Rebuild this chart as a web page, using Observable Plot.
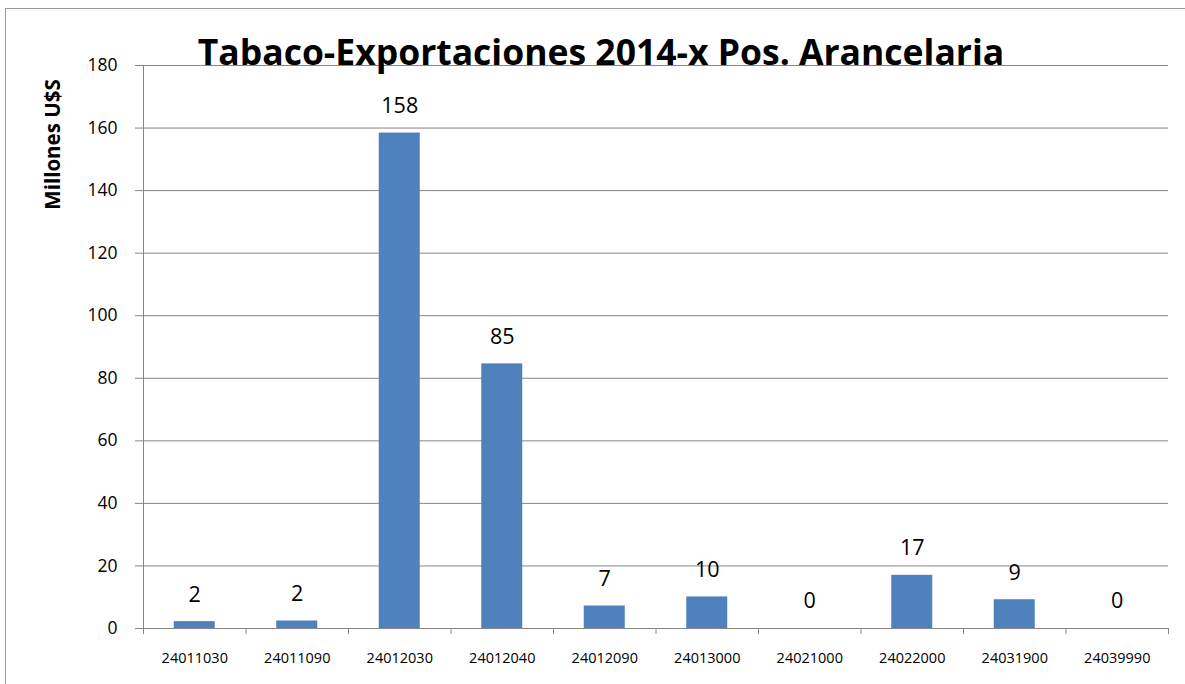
<!DOCTYPE html>
<html>
<head>
<meta charset="utf-8">
<script src="https://cdn.jsdelivr.net/npm/d3@7"></script>
<script src="https://cdn.jsdelivr.net/npm/@observablehq/plot@0.6"></script>
<style>
  html, body { margin: 0; padding: 0; background: #fff; overflow: hidden; }
  #wrap { position: relative; width: 1185px; height: 684px; }
  #border { position: absolute; left: 5px; top: 8px; width: 1300px; height: 800px; border: 1.5px solid #9a9a9a; box-sizing: border-box; }
  #chart { position: absolute; left: 0; top: 0; }
</style>
</head>
<body>
<div id="wrap"><div id="border"></div><div id="chart"></div></div>
<script>
const title = "Tabaco-Exportaciones 2014-x Pos. Arancelaria";
const yLabel = "Millones U$S";
const codes = ["24011030","24011090","24012030","24012040","24012090","24013000","24021000","24022000","24031900","24039990"];
const values = [2.2, 2.4, 158.4, 84.6, 7.2, 10.1, 0.0, 17.0, 9.2, 0.0];
const yTicks = [0, 20, 40, 60, 80, 100, 120, 140, 160, 180];

const data = codes.map((c, i) => ({code: c, value: values[i]}));

const W = 1185, H = 684, mL = 143, mR = 17, mT = 65, mB = 56;
const step = (W - mL - mR) / codes.length;
const grid = "#868686";

const chart = Plot.plot({
  width: W, height: H,
  marginLeft: mL, marginRight: mR, marginTop: mT, marginBottom: mB,
  style: {fontFamily: "'Open Sans', sans-serif", color: "black", background: "transparent"},
  x: {domain: codes, paddingInner: 0.6, paddingOuter: 0.3, round: false, label: null},
  y: {domain: [0, 180], label: null},
  marks: [
    Plot.gridY(yTicks, {stroke: grid, strokeOpacity: 1, strokeWidth: 1}),
    Plot.frame({anchor: "left", stroke: grid}),
    Plot.barY(data, {x: "code", y: "value", fill: "#4F81BD"}),
    Plot.ruleX(codes, {x: d => d, y1: 0, y2: 0, insetBottom: -6, dx: -step / 2, stroke: grid}),
    Plot.ruleX(codes.slice(-1), {x: d => d, y1: 0, y2: 0, insetBottom: -6, dx: step / 2, stroke: grid}),
    Plot.axisY({ticks: yTicks, tickSize: 8, tickPadding: 18, fontSize: 17.5, stroke: grid, fill: "black", label: null}),
    Plot.axisX({tickSize: 0, tickPadding: 24, fontSize: 14.5, fill: "black", label: null}),
    Plot.text(data, {x: "code", y: "value", text: d => d3.format(".0f")(d.value), dy: -27, fontSize: 21.5, fill: "black"}),
    Plot.text([title], {frameAnchor: "top", dx: -55, dy: -12, lineAnchor: "middle", fontWeight: "bold", fontSize: 35.5, fill: "black"}),
    Plot.text([yLabel], {frameAnchor: "top-left", dx: -90, dy: 79, rotate: -90, textAnchor: "middle", lineAnchor: "middle", fontWeight: "bold", fontSize: 20.5, fill: "black"})
  ]
});
document.getElementById("chart").appendChild(chart);
</script>
</body>
</html>
